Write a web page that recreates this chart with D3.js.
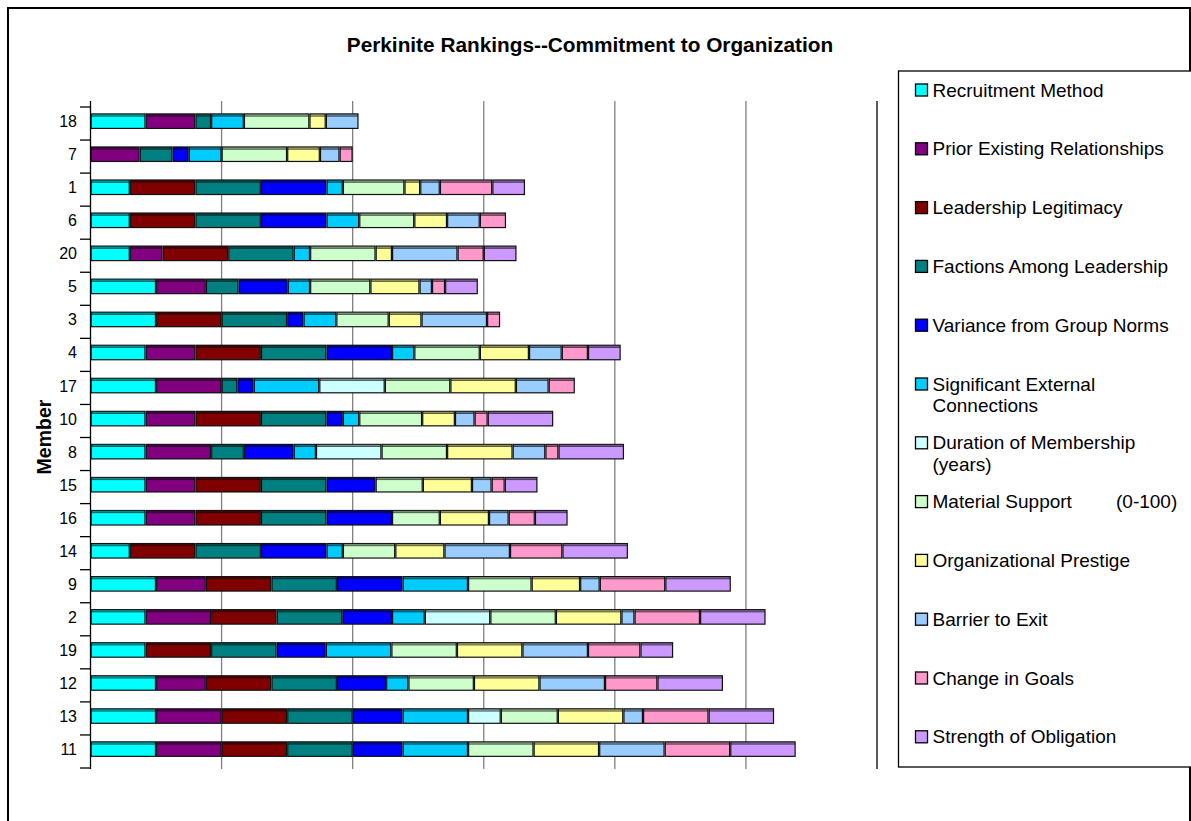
<!DOCTYPE html>
<html><head><meta charset="utf-8">
<script src="https://cdn.jsdelivr.net/npm/d3@7"></script>
<style>body{margin:0;background:#fff}svg{display:block;font-family:"Liberation Sans",Arial,sans-serif}</style>
</head><body><svg id="chart" width="1191" height="821"></svg>
<script>
const members = ["18","7","1","6","20","5","3","4","17","10","8","15","16","14","9","2","19","12","13","11"];
const seriesNames = ["Recruitment Method","Prior Existing Relationships","Leadership Legitimacy","Factions Among Leadership","Variance from Group Norms","Significant External Connections","Duration of Membership (years)","Material Support (0-100)","Organizational Prestige","Barrier to Exit","Change in Goals","Strength of Obligation"];
const legendLines = [["Recruitment Method"],["Prior Existing Relationships"],["Leadership Legitimacy"],["Factions Among Leadership"],["Variance from Group Norms"],["Significant External","Connections"],["Duration of Membership","(years)"],["Material Support","(0-100)"],["Organizational Prestige"],["Barrier to Exit"],["Change in Goals"],["Strength of Obligation"]];
const colors = ["#00FFFF","#800080","#800000","#008080","#0000FF","#00CCFF","#CCFFFF","#CCFFCC","#FFFF99","#99CCFF","#FF99CC","#CC99FF"];
// values per series, in order of members
const recruitment   = [8.4,0,6,6,6,10,10,8.4,10,8.4,8.4,8.4,8.4,6,10,8.4,8.4,10,10,10];
const priorRel      = [7.6,7.5,0,0,5,7.6,0,7.6,10,7.6,10,7.6,7.6,0,7.6,10,0,7.6,10,10];
const leadership    = [0,0,10,10,10,0,10,10,0,10,0,10,10,10,10,10,10,10,10,10];
const factions      = [2.4,5,10,10,10,5,10,10,2.4,10,5,10,10,10,10,10,10,10,10,10];
const variance      = [0,2.5,10,10,0,7.5,2.5,10,2.5,2.5,7.6,7.5,10,10,10,7.6,7.5,7.5,7.6,7.6];
const externalConn  = [5,5,2.5,5,2.5,3.4,5,3.4,10,2.5,3.4,0,0,2.5,10,5,10,3.4,10,10];
const duration      = [0,0,0,0,0,0,0,0,10,0,10,0,0,0,0,10,0,0,5,0];
const material      = [10,10,9.4,8.4,10,9.2,8,10,10,9.6,10,7.2,7.3,8,9.7,10,10,10,8.7,10];
const prestige      = [2.5,5,2.4,5,2.5,7.5,5,7.5,10,5,10,7.5,7.5,7.5,7.4,10,10,10,10,10];
const barrier       = [5,3,3,5,10,1.9,10,5,5,3,5,3,3,10,3,2,10,10,3,10];
const changeGoals   = [0,2,8,4,4,2,2,4,4,2,2,2,4,8,10,10,8,8,10,10];
const obligation    = [0,0,5,0,5,5,0,5,0,10,10,5,5,10,10,10,5,10,10,10];
const xTicks = [0,20,40,60,80,100,120];

const seriesValues = [recruitment,priorRel,leadership,factions,variance,externalConn,duration,material,prestige,barrier,changeGoals,obligation];
const rows = members.map((m,i)=>{const o={member:m};seriesNames.forEach((s,j)=>o[s]=seriesValues[j][i]);return o;});
const stacked = d3.stack().keys(seriesNames)(rows);

const svg = d3.select("#chart");
// outer border
svg.append("rect").attr("x",8).attr("y",8).attr("width",1182).attr("height",830).attr("fill","none").attr("stroke","#000").attr("stroke-width",2);

const x = d3.scaleLinear().domain([0,120]).range([90.5,877]);
const y = d3.scaleBand().domain(members).range([107,768]);

// gridlines
svg.append("g").selectAll("line").data(xTicks.slice(1)).join("line")
  .attr("x1",d=>x(d)).attr("x2",d=>x(d)).attr("y1",101).attr("y2",769)
  .attr("stroke",d=>d===120?"#000":"#808080").attr("stroke-width",1.3);

// bars
const barH = 15.7, off = 6.3;
const g = svg.append("g");
stacked.forEach((layer,si)=>{
  const c = d3.color(colors[si]);
  const dark = c.darker(1.6);
  layer.forEach(d=>{
    const w = x(d[1])-x(d[0]);
    if (w<=0.1) return;
    const yy = y(d.data.member)+off;
    g.append("rect").attr("x",x(d[0])).attr("y",yy).attr("width",w).attr("height",barH).attr("fill","#111");
    g.append("rect").attr("x",x(d[0])+1.2).attr("y",yy+1).attr("width",Math.max(0,w-2.4)).attr("height",1.8).attr("fill",dark);
    g.append("rect").attr("x",x(d[0])+1.2).attr("y",yy+3.2).attr("width",Math.max(0,w-2.4)).attr("height",barH-4.4).attr("fill",colors[si]);
  });
});

// y axis
svg.append("line").attr("x1",90.5).attr("x2",90.5).attr("y1",101).attr("y2",769).attr("stroke","#000").attr("stroke-width",1.3);
const bounds = members.map(m=>y(m)).concat([y(members[members.length-1])+y.bandwidth()]);
svg.append("g").selectAll("line").data(bounds).join("line")
  .attr("x1",80).attr("x2",91).attr("y1",d=>d).attr("y2",d=>d).attr("stroke","#000").attr("stroke-width",1.3);
svg.append("g").selectAll("text").data(members).join("text")
  .attr("x",77).attr("y",m=>y(m)+y.bandwidth()/2-2).attr("dy","0.35em").attr("text-anchor","end")
  .attr("font-size",16).text(d=>d);

// title
svg.append("text").attr("x",590).attr("y",52).attr("text-anchor","middle").attr("font-size",20.8).attr("font-weight","bold")
  .text("Perkinite Rankings--Commitment to Organization");
svg.append("text").attr("transform","translate(51,437) rotate(-90)").attr("text-anchor","middle").attr("font-size",19.5).attr("font-weight","bold").text("Member");

// legend
svg.append("rect").attr("x",898.5).attr("y",71).attr("width",300).attr("height",696).attr("fill","#fff").attr("stroke","#000").attr("stroke-width",1.3);
const lg = svg.append("g");
legendLines.forEach((lines,i)=>{
  const cy = 90 + i*58.8;
  lg.append("rect").attr("x",915.5).attr("y",cy-6).attr("width",12).attr("height",12).attr("fill",colors[i]).attr("stroke","#000").attr("stroke-width",1.3);
  const t = lg.append("text").attr("font-size",19).attr("y",cy).attr("dy","0.35em");
  if (i===7){
    t.append("tspan").attr("x",932.5).text(lines[0]);
    t.append("tspan").attr("x",1116).text(lines[1]);
  } else {
    lines.forEach((ln,k)=>t.append("tspan").attr("x",932.5).attr("dy",k===0?"0.35em":"1.14em").text(ln));
  }
});
</script></body></html>
